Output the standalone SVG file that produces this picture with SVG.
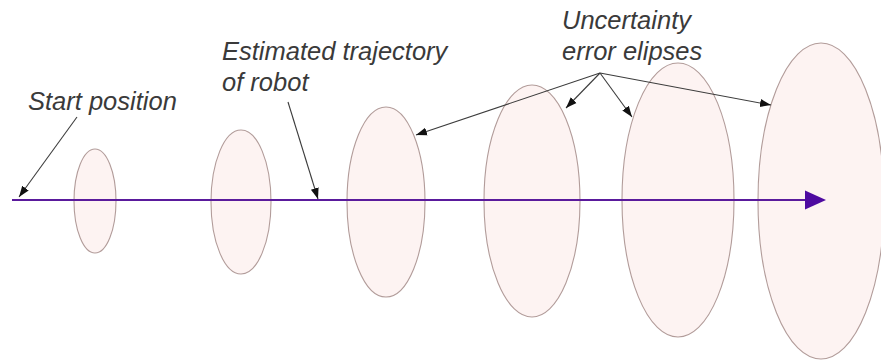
<svg xmlns="http://www.w3.org/2000/svg" width="881" height="363" viewBox="0 0 881 363">
  <style>
    .ell { fill: #fdf3f2; stroke: #b29c9a; stroke-width: 1.1; }
    .lbl { font-family: "Liberation Sans", Arial, sans-serif; font-style: italic; font-size: 25.5px; fill: #3a3a3a; }
    .ptr { stroke: #3c3c3c; stroke-width: 1.1; fill: none; marker-end: url(#tip); }
    .traj { stroke: #5a1a9c; stroke-width: 2.2; fill: none; }
  </style>
  <defs>
    <marker id="tip" markerUnits="userSpaceOnUse" markerWidth="12" markerHeight="10" viewBox="0 0 12 10" refX="11" refY="5" orient="auto">
      <path d="M0,1 L11,5 L0,9 Z" fill="#111"/>
    </marker>
  </defs>
  <rect width="881" height="363" fill="#ffffff"/>

  <g id="ellipse1"><ellipse class="ell" cx="95" cy="201" rx="21" ry="52"/></g>
  <g id="ellipse2"><ellipse class="ell" cx="241" cy="202" rx="30" ry="72"/></g>
  <g id="ellipse3"><ellipse class="ell" cx="386" cy="202" rx="39" ry="95"/></g>
  <g id="ellipse4"><ellipse class="ell" cx="532" cy="201" rx="48" ry="116"/></g>
  <g id="ellipse5"><ellipse class="ell" cx="678" cy="200" rx="56" ry="137"/></g>
  <g id="ellipse6"><ellipse class="ell" cx="821" cy="201" rx="63" ry="158"/></g>

  <g id="trajectory">
    <line class="traj" x1="12" y1="200" x2="808" y2="200"/>
    <path d="M805,190.5 L826,200 L805,209.5 Z" fill="#4e0aa0"/>
  </g>

  <g id="label-start"><text class="lbl" x="28" y="110">Start position</text></g>
  <g id="label-trajectory">
    <text class="lbl" x="222" y="60">Estimated trajectory</text>
    <text class="lbl" x="222" y="91">of robot</text>
  </g>
  <g id="label-uncertainty">
    <text class="lbl" x="562" y="29">Uncertainty</text>
    <text class="lbl" x="562" y="60">error elipses</text>
  </g>

  <g id="connectors">
    <line class="ptr" x1="77" y1="117" x2="19" y2="197"/>
    <line class="ptr" x1="288" y1="102" x2="318" y2="199"/>
    <line class="ptr" x1="600" y1="73" x2="416" y2="135"/>
    <line class="ptr" x1="600" y1="73" x2="566" y2="108"/>
    <line class="ptr" x1="600" y1="73" x2="632" y2="117"/>
    <line class="ptr" x1="600" y1="73" x2="771" y2="105"/>
  </g>
</svg>
